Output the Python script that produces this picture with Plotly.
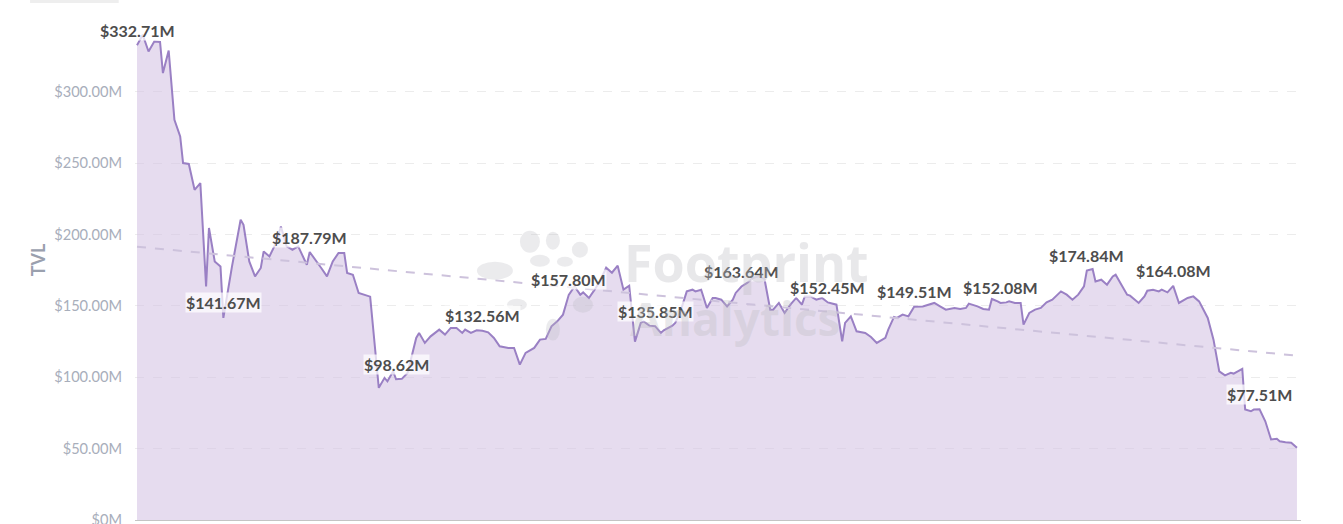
import plotly.graph_objects as go

# day index (from first sample) and TVL in $M
days = [0, 2, 4, 6, 8, 9, 11, 13, 15, 16, 18, 20, 22, 24, 25, 27, 29, 30,
        33, 36, 37, 39, 41, 43, 44, 46, 48, 50, 52, 54, 56, 58, 59, 60,
        62, 64, 66, 68, 70, 72, 73, 75, 77, 80, 81, 84, 86, 87, 89, 90,
        92, 94, 97, 98, 100, 102, 105, 107, 109, 111, 113, 114, 116, 118, 120,
        122, 124, 126, 129, 131, 133, 135, 138, 140, 142, 144, 146, 148, 150,
        152, 154, 155, 157, 159, 161, 163, 165, 167, 169, 171, 173, 175, 176, 178, 180,
        182, 183, 186, 187, 189, 191, 193, 194, 196, 198, 200, 201, 203, 205, 207, 208, 210,
        212, 214, 216, 218, 220, 221, 223, 225, 227, 229, 231, 232, 234, 236, 238, 240,
        243, 245, 246, 248, 250, 253, 255, 257, 260, 261, 263, 264, 266, 268, 270,
        273, 275, 277, 279, 281, 284, 286, 288, 289, 292, 294, 296, 297, 299, 300,
        302, 303, 305, 307, 308, 310, 312, 314, 316, 318, 321, 323, 325, 327, 329, 330,
        332, 333, 335, 337, 339, 340, 342, 344, 345, 348, 350, 351, 353, 355, 356, 358, 360,
        362, 365, 367, 369, 372, 374, 376, 378, 380, 381, 384, 385, 387, 388, 390,
        392, 394, 396, 397, 399, 401, 403]
tvl = [332.71, 340.0, 328.3, 335.3, 335.0, 313.2, 329.0, 280.5, 268.8, 250.1, 249.5, 231.4, 236.1, 163.7, 204.6, 181.2, 177.7, 141.67,
       177.7, 210.4, 206.9, 181.2, 170.7, 176.6, 188.2, 184.7, 192.9, 205.7, 191.7, 189.4, 191.7, 182.4, 178.9, 187.79,
       182.4, 176.6, 170.7, 181.2, 187.1, 187.1, 173.1, 171.9, 159.1, 157.2, 156.5, 92.6, 99.6, 97.2, 104.2, 98.62,
       98.9, 103.1, 127.6, 131.1, 124.1, 128.7, 133.4, 129.9, 134.6, 134.6, 131.1, 133.4, 131.1, 132.9, 132.56,
       131.5, 127.6, 121.7, 120.6, 120.6, 108.9, 117.1, 120.6, 126.4, 126.9, 135.7, 139.2, 143.9, 157.80,
       163.7, 157.9, 159.5, 155.6, 161.4, 168.0, 176.8, 173.3, 178.2, 161.4, 164.2, 125.0, 138.1, 139.2, 136.2, 135.85,
       131.1, 132.9, 136.2, 138.1, 147.4, 160.2, 161.4, 160.2, 161.4, 148.6, 155.6, 155.6, 154.4, 149.7, 154.4, 159.1, 163.64,
       166.1, 169.6, 170.7, 168.9, 147.4, 147.4, 152.1, 145.1, 150.9, 155.6, 150.9, 156.7, 156.7, 154.4, 155.6, 152.45,
       150.9, 125.2, 138.1, 142.7, 132.2, 131.1, 128.2, 124.1, 127.6, 133.4, 142.3, 141.6, 143.9, 142.7, 149.51,
       149.7, 150.9, 152.1, 149.7, 147.4, 148.6, 147.9, 148.6, 151.6, 149.7, 147.9, 147.4, 154.9, 153.2, 152.08,
       152.5, 153.2, 152.1, 152.1, 136.9, 145.1, 147.4, 148.6, 152.5, 154.4, 160.2, 157.9, 154.4, 157.9, 163.7, 174.84,
       175.9, 167.2, 168.4, 164.9, 170.7, 171.9, 164.9, 157.9, 157.2, 152.1, 156.7, 160.7, 161.4, 160.2, 161.4, 159.5, 164.08,
       152.1, 155.6, 156.7, 153.2, 141.6, 126.4, 104.2, 101.4, 103.1, 102.6, 105.9, 77.4, 76.2, 77.4, 77.51,
       69.2, 56.4, 56.9, 55.2, 54.5, 54.1, 50.6]

# labelled samples
label_days = [0, 30, 60, 90, 120, 150, 180, 210, 240, 270, 300, 330, 360, 390]
label_values = [332.71, 141.67, 187.79, 98.62, 132.56, 157.80, 135.85, 163.64,
                152.45, 149.51, 152.08, 174.84, 164.08, 77.51]

# trend line end points
trend_days = [0, 403]
trend_values = [191.5, 115.2]

y_ticks = [0, 50, 100, 150, 200, 250, 300]
y_tick_text = ["$0M", "$50.00M", "$100.00M", "$150.00M", "$200.00M", "$250.00M", "$300.00M"]

fig = go.Figure()
fig.add_trace(go.Scatter(
    x=days, y=tvl, mode="lines", name="TVL",
    line=dict(color="#9a80c4", width=2),
    fill="tozeroy", fillcolor="rgba(214,196,228,0.6)",
    hoverinfo="skip",
))
fig.add_trace(go.Scatter(
    x=trend_days, y=trend_values, mode="lines", name="trend",
    line=dict(color="#cdc2dc", width=2, dash="dash"),
    hoverinfo="skip",
))


def px_x(px):
    return (px - 137) / 2.879


def px_y(py):
    return (520.5 - py) * 0.7003


annotations = []
for d, v in zip(label_days, label_values):
    annotations.append(dict(
        x=d, y=v, xref="x", yref="y", text=f"${v:.2f}M", showarrow=False,
        yshift=15, font=dict(family="Lato", size=16, color="#4d4d4d", weight="bold"),
        bgcolor="rgba(255,255,255,0.72)", borderpad=0,
    ))
# watermark
annotations.append(dict(x=px_x(747), y=px_y(262), xref="x", yref="y", text="<b>Footprint</b>",
                        showarrow=False, font=dict(family="Open Sans", size=52, color="rgba(190,190,195,0.35)")))
annotations.append(dict(x=px_x(735), y=px_y(318), xref="x", yref="y",
                        text="<b>Analytics</b>", showarrow=False,
                        font=dict(family="Open Sans", size=46, color="rgba(190,190,195,0.35)")))

shapes = [
    # small element cut off at the top-left
    dict(type="rect", xref="paper", yref="paper", x0=-0.09, x1=-0.014, y0=0.994, y1=1.01,
         line=dict(width=0), fillcolor="#eeeeee", layer="below"),
]
# logo of the watermark (decorative petals)
logo = [(530, 242, 10, 11), (553, 241, 7, 9), (580, 250, 8, 8), (495, 271, 18, 9),
        (540, 261, 10, 6), (565, 262, 8, 5), (583, 305, 10, 8), (553, 330, 7, 11),
        (517, 305, 10, 6)]
for cx, cy, rx, ry in logo:
    shapes.append(dict(type="circle", xref="x", yref="y",
                       x0=px_x(cx - rx), x1=px_x(cx + rx),
                       y0=px_y(cy + ry), y1=px_y(cy - ry),
                       line=dict(width=0), fillcolor="rgba(190,190,195,0.3)"))

fig.update_layout(
    width=1343, height=524,
    margin=dict(l=135, r=42, t=0, b=4, autoexpand=False),
    paper_bgcolor="white", plot_bgcolor="white",
    showlegend=False,
    annotations=annotations,
    shapes=shapes,
    xaxis=dict(range=[-0.7, 404.4], showticklabels=False, showgrid=False, zeroline=False,
               showline=True, linecolor="#c4c4c4", linewidth=1, ticks="", automargin=False),
    yaxis=dict(range=[0, 364.4], tickvals=y_ticks, ticktext=y_tick_text, automargin=False,
               showgrid=True, gridcolor="#ececec", griddash="dash", zeroline=False,
               showline=False, ticks="", ticklabelstandoff=12, ticklabeloverflow="allow",
               tickfont=dict(family="Lato", size=14.6, color="#a8aebb"),
               title=dict(text="<b>TVL</b>", standoff=3,
                          font=dict(family="Lato", size=18, color="#9aa0ae"))),
)

fig.write_html("out.html", config={"displayModeBar": False},
               post_script="document.body.style.margin='0';document.body.style.overflow='hidden';")
